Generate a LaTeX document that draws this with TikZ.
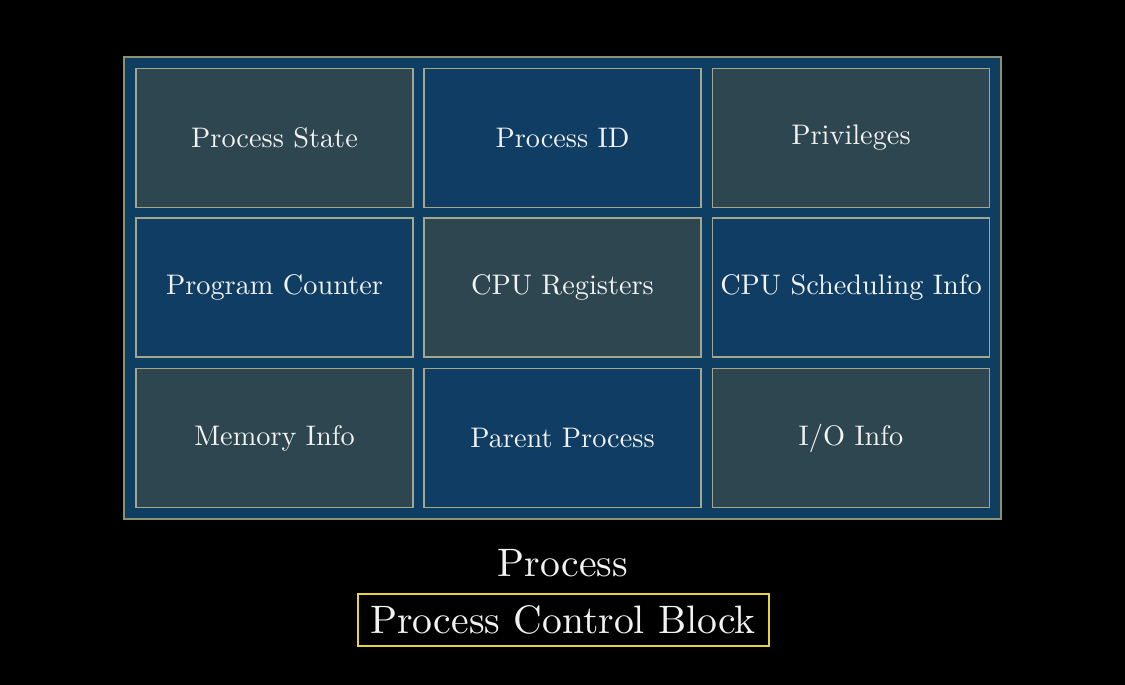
\documentclass[tikz,border=0pt]{standalone}
\usepackage{graphicx}
\definecolor{bgblack}{HTML}{000000}
\definecolor{outerblue}{HTML}{0F3E63}
\definecolor{outerline}{HTML}{8A9070}
\definecolor{cellgray}{HTML}{2E4650}
\definecolor{cellblue}{HTML}{0F3D63}
\definecolor{cellline}{HTML}{A3A88C}
\definecolor{pcbyellow}{HTML}{E6D53A}
\definecolor{txt}{HTML}{F2F2F2}
\newcommand{\celltxt}[1]{\scalebox{2.83}{\fontsize{10}{12}\selectfont #1}}
\newcommand{\captxt}[1]{\scalebox{3.97}{\fontsize{10}{12}\selectfont #1}}
\begin{document}
\begin{tikzpicture}[x=1pt,y=-1pt,
  cell/.style={draw=cellline, line width=1.6pt, minimum width=277pt, minimum height=139pt,
    inner sep=0pt, text=txt},
  graycell/.style={cell, fill=cellgray},
  bluecell/.style={cell, fill=cellblue},
  caption/.style={text=txt, inner sep=0pt}]
\useasboundingbox[fill=bgblack] (0,0) rectangle (1125,685);
\node[draw=outerline, fill=outerblue, line width=1.6pt, minimum width=877pt, minimum height=462pt, inner sep=0pt] (outer) at (562.5,288) {};
\node[graycell] (ps) at (274.5,138) {\celltxt{Process State}};
\node[bluecell] (pid) at (562.5,138) {\celltxt{Process ID}};
\node[graycell] (priv) at (851,138) {\celltxt{Privileges}};
\node[bluecell] (pc) at (274.5,287.5) {\celltxt{Program Counter}};
\node[graycell] (reg) at (562.5,287.5) {\celltxt{CPU Registers}};
\node[bluecell] (sched) at (851,287.5) {\celltxt{CPU Scheduling Info}};
\node[graycell] (mem) at (274.5,438) {\celltxt{Memory Info}};
\node[bluecell] (parent) at (562.5,438) {\celltxt{Parent Process}};
\node[graycell] (io) at (851,438) {\celltxt{I/O Info}};
\node[caption] (proc) at (563,563) {\captxt{Process}};
\node[caption, draw=pcbyellow, line width=2pt, minimum width=411pt, minimum height=52pt] (pcb) at (563,619.5) {\captxt{Process Control Block}};
\end{tikzpicture}
\end{document}
